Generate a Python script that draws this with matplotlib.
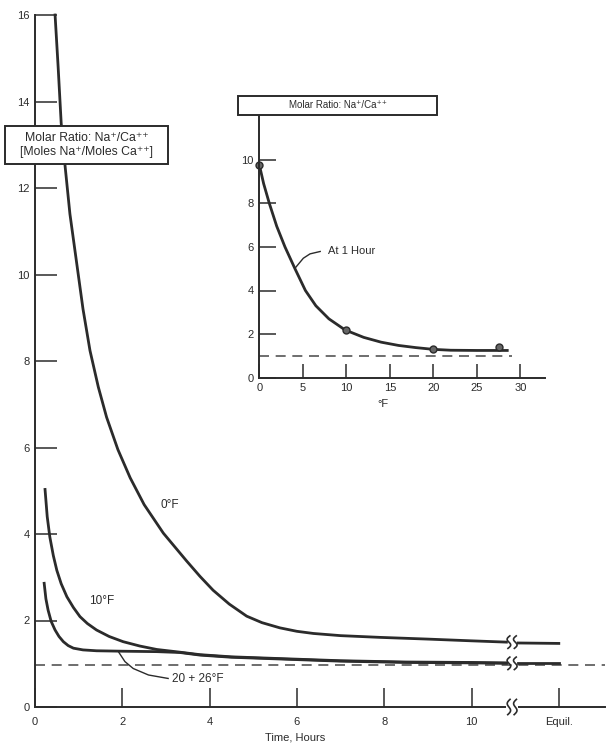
import matplotlib
matplotlib.use("Agg")
import matplotlib.pyplot as plt
import matplotlib.transforms as mtransforms
from matplotlib.patches import Rectangle
import numpy as np

plt.rcParams['font.family'] = ['Liberation Sans', 'DejaVu Sans']

# main chart: molar ratio vs time (hours)
t_0f = [0.46, 0.53, 0.60, 0.69, 0.80, 0.95, 1.10, 1.26, 1.45, 1.64, 1.90, 2.18,
        2.50, 2.94, 3.47, 3.78, 4.08, 4.45, 4.85, 5.20, 5.61, 6.00, 6.38, 7.00,
        7.90, 9.00, 10.00, 10.80]
v_0f = [16.0, 14.8, 13.5, 12.5, 11.4, 10.3, 9.2, 8.24, 7.4, 6.7, 5.95, 5.30,
        4.68, 4.02, 3.38, 3.02, 2.70, 2.38, 2.10, 1.95, 1.83, 1.75, 1.70, 1.65,
        1.61, 1.57, 1.53, 1.50]
t_10f = [0.23, 0.28, 0.34, 0.42, 0.50, 0.60, 0.73, 0.88, 1.03, 1.20, 1.41, 1.70,
         2.02, 2.40, 2.79, 3.30, 3.78, 4.50, 5.60, 7.00, 8.50, 10.00, 10.80]
v_10f = [5.03, 4.40, 3.93, 3.50, 3.16, 2.85, 2.55, 2.30, 2.09, 1.93, 1.78, 1.63,
         1.51, 1.41, 1.33, 1.27, 1.21, 1.16, 1.12, 1.07, 1.04, 1.03, 1.02]
t_2026f = [0.21, 0.25, 0.30, 0.37, 0.46, 0.55, 0.65, 0.76, 0.88, 1.10, 1.41, 2.00,
           2.79, 3.32, 3.78, 4.50, 5.61, 7.00, 8.50, 10.00, 10.80]
v_2026f = [2.86, 2.50, 2.24, 1.98, 1.78, 1.63, 1.51, 1.42, 1.36, 1.32, 1.30, 1.29,
           1.28, 1.26, 1.20, 1.15, 1.11, 1.06, 1.03, 1.02, 1.01]
# equilibrium segments after the axis break
t_equil = [11.07, 12.0]
v_equil_0f = [1.48, 1.47]
v_equil_low = [1.01, 1.01]
equil_line = 0.97
t_break = 10.93

x_ticks = [0, 2, 4, 6, 8, 10, 12]
x_labels = ['0', '2', '4', '6', '8', '10', 'Equil.']
y_ticks = [0, 2, 4, 6, 8, 10, 12, 14, 16]

# inset: ratio at 1 hour vs temperature
f_pts = [0, 10, 20, 27.5]
r_pts = [9.77, 2.2, 1.3, 1.42]
f_curve = [0, 0.5, 1.15, 2.0, 2.95, 4.1, 5.3, 6.5, 8.0, 9.86, 12, 14, 16, 18, 20,
           22, 25, 28.5]
r_curve = [9.77, 8.9, 8.0, 6.95, 6.0, 5.0, 4.0, 3.3, 2.7, 2.19, 1.85, 1.63, 1.48,
           1.38, 1.30, 1.26, 1.25, 1.25]
in_xticks = [0, 5, 10, 15, 20, 25, 30]
in_yticks = [0, 2, 4, 6, 8, 10]

# leader lines for labels
lead_main = [(1.91, 1.28), (2.06, 1.05), (2.25, 0.89), (2.6, 0.74), (3.05, 0.66)]
lead_inset = [(4.1, 5.02), (5.06, 5.48), (5.83, 5.68), (7.0, 5.79)]

ink = '#2b2b2b'
W, H = 606, 745

fig = plt.figure(figsize=(W / 100, H / 100), dpi=100)
ax = fig.add_axes([35 / W, 1 - 707 / H, 570 / W, 692 / H])
ax.set_xlim(0, 570 / 43.65)
ax.set_ylim(0, 16)
for s in ['top', 'right']:
    ax.spines[s].set_visible(False)
for s in ['left', 'bottom']:
    ax.spines[s].set_linewidth(1.4)
    ax.spines[s].set_color(ink)

ax.set_xticks(x_ticks)
ax.set_xticklabels(x_labels)
ax.set_yticks(y_ticks)
ax.tick_params(axis='x', direction='in', length=14, width=1.1, pad=7,
               labelsize=8, colors=ink)
ax.tick_params(axis='y', direction='in', length=16, width=1.1, pad=4,
               labelsize=8, colors=ink)

lw = 2.0
ax.plot(t_0f, v_0f, color=ink, lw=lw, clip_on=False)
ax.plot(t_10f, v_10f, color=ink, lw=lw)
ax.plot(t_2026f, v_2026f, color=ink, lw=lw)
ax.plot(t_equil, v_equil_0f, color=ink, lw=lw)
ax.plot(t_equil, v_equil_low, color=ink, lw=lw)
ax.axhline(equil_line, color='#555555', lw=1.2, ls=(0, (6, 4)), zorder=1)

ax.text(3.09, 4.66, '0°F', fontsize=8.5, ha='center', va='center', color=ink)
ax.text(1.53, 2.45, '10°F', fontsize=8.5, ha='center', va='center', color=ink)
ax.text(3.13, 0.65, '20 + 26°F', fontsize=8.5, ha='left', va='center', color=ink)
lx, ly = zip(*lead_main)
ax.plot(lx, ly, color=ink, lw=1.0)


def draw_break(ax, x0, y0, h=9.0, gap=True):
    # two small S-shaped marks at (x0, y0), sizes in points
    base = fig.dpi_scale_trans + mtransforms.ScaledTranslation(x0, y0, ax.transData)
    tr = mtransforms.Affine2D().scale(1 / 72) + base
    if gap:
        ax.add_patch(Rectangle((-4.5, -1.5), 9, 3, transform=tr, fc='white',
                               ec='none', zorder=4, clip_on=False))
    yy = np.linspace(-h / 2, h / 2, 40)
    for dx in (-2.3, 2.3):
        xx = dx - 1.6 * np.sin(np.pi * yy / (h / 2)) + 0.15 * yy
        ax.plot(xx, yy, color=ink, lw=1.2, transform=tr, zorder=5, clip_on=False)


draw_break(ax, t_break, v_0f[-1], gap=False)
draw_break(ax, t_break, v_2026f[-1], gap=False)
draw_break(ax, t_break, 0, h=11)

fig.text(295 / W, 1 - 737 / H, 'Time, Hours', fontsize=8, ha='center',
         va='center', color=ink)

# main label box
fig.add_artist(Rectangle((5 / W, 1 - 164 / H), 163 / W, 38 / H,
                         transform=fig.transFigure, fc='white', ec=ink, lw=1.4))
fig.text(86.5 / W, 1 - 145 / H, 'Molar Ratio: Na⁺/Ca⁺⁺\n[Moles Na⁺/Moles Ca⁺⁺]',
         fontsize=8.8, ha='center', va='center', color=ink, linespacing=1.15)

# inset
ai = fig.add_axes([259.3 / W, 1 - 377.7 / H, 285.7 / W, 262.7 / H])
ai.set_xlim(0, 285.7 / 8.7)
ai.set_ylim(0, 262.7 / 21.8)
ai.patch.set_alpha(0)
for s in ['top', 'right']:
    ai.spines[s].set_visible(False)
for s in ['left', 'bottom']:
    ai.spines[s].set_linewidth(1.4)
    ai.spines[s].set_color(ink)
ai.set_xticks(in_xticks)
ai.set_yticks(in_yticks)
ai.tick_params(axis='x', direction='in', length=10, width=1.1, pad=4,
               labelsize=8, colors=ink)
ai.tick_params(axis='y', direction='in', length=12, width=1.1, pad=4,
               labelsize=8, colors=ink)
ai.plot(f_curve, r_curve, color=ink, lw=lw)
ai.plot(f_pts, r_pts, 'o', ms=5, mfc='#666666', mec=ink, mew=1.0, clip_on=False)
ai.plot([0, 29], [1, 1], color='#555555', lw=1.2, ls=(0, (6, 4)))
ix, iy = zip(*lead_inset)
ai.plot(ix, iy, color=ink, lw=1.0)
ai.text(7.9, 5.8, 'At 1 Hour', fontsize=8, ha='left', va='center', color=ink)
fig.text(383 / W, 1 - 404 / H, '°F', fontsize=8, ha='center', va='center', color=ink)

fig.add_artist(Rectangle((238 / W, 1 - 115 / H), 199 / W, 19 / H,
                         transform=fig.transFigure, fc='white', ec=ink, lw=1.4))
fig.text(337.5 / W, 1 - 105.5 / H, 'Molar Ratio: Na⁺/Ca⁺⁺', fontsize=7,
         ha='center', va='center', color=ink)

fig.savefig('out.png', dpi=100)
